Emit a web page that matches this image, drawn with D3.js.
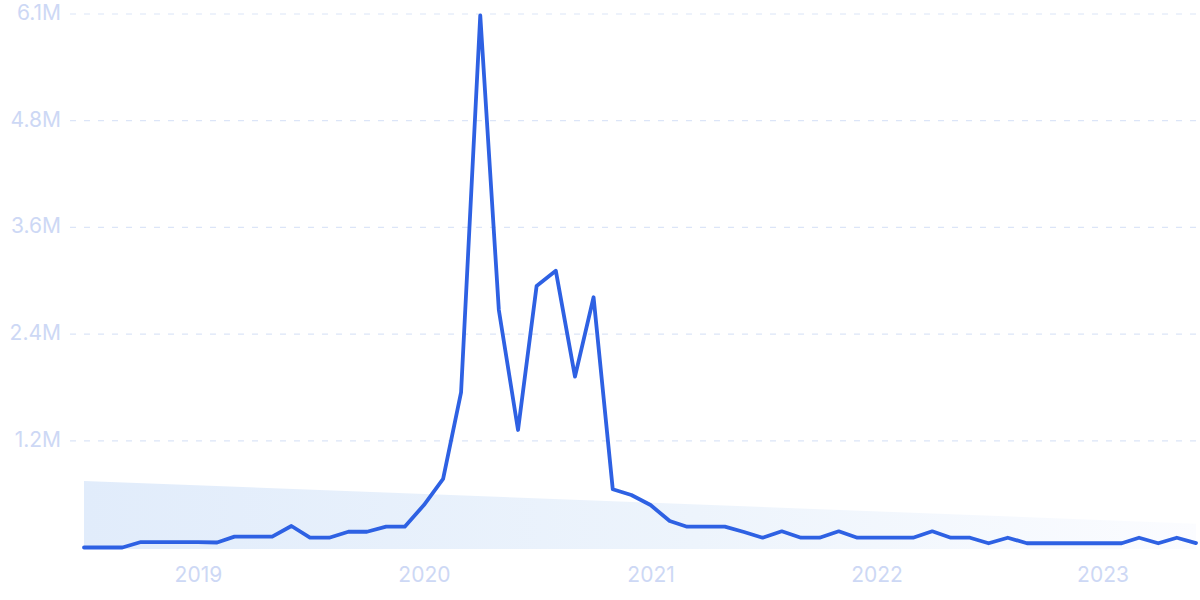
<!DOCTYPE html>
<html>
<head>
<meta charset="utf-8">
<script src="https://cdn.jsdelivr.net/npm/d3@7/dist/d3.min.js"></script>
<style>
  html, body { margin: 0; padding: 0; background: #ffffff; }
  svg { display: block; }
  text { font-family: Inter, "Noto Sans", sans-serif; }
</style>
</head>
<body>
<svg id="chart" width="1200" height="600"></svg>
<script>
// ---- data (monthly, July 2018 – June 2023) ----
const startMonth = "2018-07";
const values = [
  0, 0, 0, 62000, 62000, 62000, 62000, 57000, 123000, 123000,
  123000, 244000, 111000, 111000, 179000, 179000, 236000, 236000, 482000, 778000,
  1760000, 6040000, 2696000, 1334000, 2968000, 3142000, 1939000, 2840000, 661000, 596000,
  482000, 300000, 236000, 236000, 236000, 176000, 111000, 184000, 111000, 111000,
  184000, 111000, 111000, 111000, 111000, 184000, 111000, 111000, 48000, 111000,
  48000, 48000, 48000, 48000, 48000, 48000, 111000, 48000, 111000, 50000
];
const yMax = 6055000;
const yTickFractions = [0.2, 0.4, 0.6, 0.8, 1.0];
const yTickLabels = ["1.2M", "2.4M", "3.6M", "4.8M", "6.1M"];
const xTickYears = ["2019", "2020", "2021", "2022", "2023"];
// light background band (start value, end value)
const bandValues = [755000, 270000];

// ---- build ----
const parseMonth = d3.timeParse("%Y-%m");
const start = parseMonth(startMonth);
const data = values.map((v, i) => ({ date: d3.timeMonth.offset(start, i), value: v }));

const svg = d3.select("#chart");
const x = d3.scaleTime()
  .domain(d3.extent(data, d => d.date))
  .range([84, 1196]);
const y = d3.scaleLinear()
  .domain([0, yMax])
  .range([547.5, 14]);

const defs = svg.append("defs");
const grad = defs.append("linearGradient")
  .attr("id", "bandGrad")
  .attr("x1", "0%").attr("y1", "0%")
  .attr("x2", "100%").attr("y2", "0%");
grad.append("stop").attr("offset", "0%").attr("stop-color", "#e1ecfb");
grad.append("stop").attr("offset", "55%").attr("stop-color", "#edf4fc");
grad.append("stop").attr("offset", "100%").attr("stop-color", "#fbfcff");

// gridlines
const gridG = svg.append("g");
gridG.selectAll("line")
  .data(yTickFractions)
  .join("line")
  .attr("x1", 70).attr("x2", 1200)
  .attr("y1", f => y(f * yMax)).attr("y2", f => y(f * yMax))
  .attr("stroke", "#dce5f8")
  .attr("stroke-width", 1.2)
  .attr("stroke-dasharray", "6,8");

// y labels
svg.append("g").selectAll("text")
  .data(yTickFractions)
  .join("text")
  .attr("x", 61)
  .attr("y", f => y(f * yMax) - 1.5)
  .attr("dy", "0.36em")
  .attr("text-anchor", "end")
  .attr("font-size", 21)
  .attr("fill", "#cdd8f5")
  .text((f, i) => yTickLabels[i]);

// background band
const bandData = [
  { date: x.domain()[0], value: bandValues[0] },
  { date: x.domain()[1], value: bandValues[1] }
];
svg.append("path")
  .datum(bandData)
  .attr("fill", "url(#bandGrad)")
  .attr("d", d3.area()
    .x(d => x(d.date))
    .y0(y(0) + 1.5)
    .y1(d => y(d.value)));

// x axis labels
const xAxis = d3.axisBottom(x)
  .tickValues(xTickYears.map(yr => d3.timeParse("%Y")(yr)))
  .tickFormat(d3.timeFormat("%Y"))
  .tickSize(0)
  .tickPadding(0);
const xg = svg.append("g")
  .attr("transform", "translate(0,567)")
  .call(xAxis);
xg.select(".domain").remove();
xg.selectAll("text")
  .attr("font-size", 21)
  .attr("font-family", "Inter, 'Noto Sans', sans-serif")
  .attr("fill", "#cdd8f5");

// main line
svg.append("path")
  .datum(data)
  .attr("fill", "none")
  .attr("stroke", "#2e61e3")
  .attr("stroke-width", 3.8)
  .attr("stroke-linejoin", "round")
  .attr("stroke-linecap", "round")
  .attr("d", d3.line()
    .x(d => x(d.date))
    .y(d => y(d.value)));
</script>
</body>
</html>
